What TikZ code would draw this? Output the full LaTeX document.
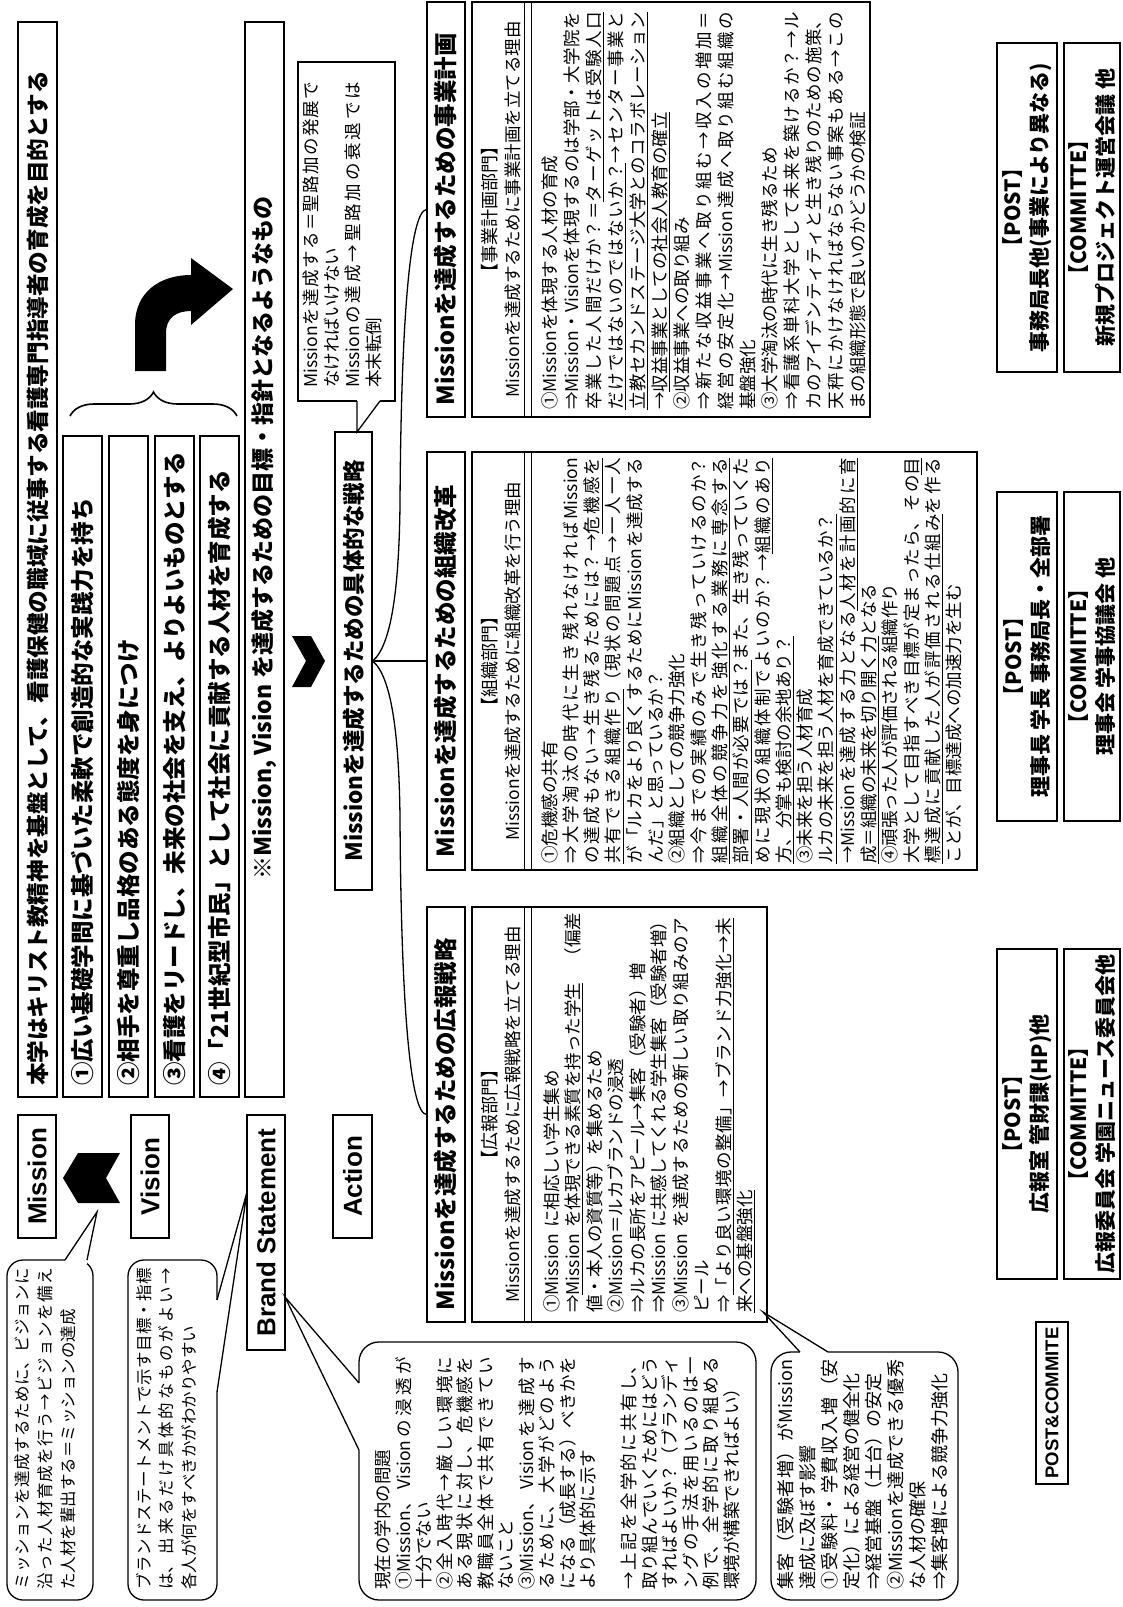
\documentclass[tikz,border=0pt]{standalone}
\usepackage{fontspec}
\setmainfont{Noto Sans CJK JP}
\newfontfamily\lat{Liberation Sans}
\usetikzlibrary{decorations.pathreplacing}
\XeTeXlinebreaklocale "ja"
\XeTeXlinebreakskip=0pt plus 1fil
\XeTeXlinebreakpenalty=10000
\hyphenpenalty=10000
\exhyphenpenalty=10000
\newcommand\jst{\parindent=0pt\leftskip=0pt\rightskip=0pt\parfillskip=0pt plus 1fill\hyphenpenalty=10000\relax}
% stretchable underline, char by char
\newcommand\ulglue{\nobreak\leaders\hrule height -2.9pt depth 3.9pt\hskip 0pt plus 1fil\relax}
\newcommand\ulchar[1]{\setbox0=\hbox{#1}\rlap{\vrule height -2.9pt depth 3.9pt width \wd0}\box0}
\newcommand\myul[1]{\leavevmode\def\ulsep{}\myulA#1\relax}
\def\myulA#1{\ifx\relax#1\else\ulsep\def\ulsep{\ulglue}\ulchar{#1}\expandafter\myulA\fi}
\newcommand\fs[2]{\fontsize{#1}{#2}\selectfont}
\tikzset{
 bx/.style={draw, line width=1.3pt, rotate=90, inner sep=0pt, fill=white},
 rt/.style={rotate=90, inner sep=0pt},
 ln/.style={line width=1.3pt},
 lab/.style={font=\lat\fs{26}{30}\bfseries},
 hd/.style={font=\fs{23.5}{26}\bfseries},
 strip/.style={rotate=90, inner sep=0pt, anchor=west, font=\fs{23.5}{26}\bfseries},
 pst/.style={align=center, font=\fs{21}{27}\bfseries},
}
\newcommand\RB[7][]{\node[bx,#1,minimum width={#6pt-#4pt},minimum height={#5pt-#3pt}] (#2) at ({(#3+#5)/2},{(#4+#6)/2}) {#7};}
\newcommand\ptr[5]{\fill[white] #1 -- #2 -- #3 -- #4 -- #5 -- cycle; \draw[ln] #2 -- #3 -- #4;}
\begin{document}
\begin{tikzpicture}[x=1pt,y=-1pt]
\fill[white] (0,0) rectangle (1123,1607);
\useasboundingbox (0,0) rectangle (1123,1607);

% ---- mission / vision strip
\RB{s0}{18}{22}{57}{1097}{}
\node[strip,font=\fs{22.6}{26}\bfseries] (t0) at (37.5,1086) {本学はキリスト教精神を基盤として、看護保健の職域に従事する看護専門指導者の育成を目的とする};
\RB{s1}{63}{436}{102}{1097}{}
\node[strip] (t1) at (82.5,1086) {①広い基礎学問に基づいた柔軟で創造的な実践力を持ち};
\RB{s2}{109}{436}{148}{1097}{}
\node[strip] (t2) at (128.5,1086) {②相手を尊重し品格のある態度を身につけ};
\RB{s3}{155}{436}{194}{1097}{}
\node[strip] (t3) at (174.5,1086) {③看護をリードし、未来の社会を支え、よりよいものとする};
\RB{s4}{200}{436}{239}{1097}{}
\node[strip] (t4) at (219.5,1086) {④「21世紀型市民」として社会に貢献する人材を育成する};
\RB{s5}{245}{22}{284}{1097}{}
\node[strip,font=\fs{23}{26}\bfseries] (t5) at (264.5,880) {※Mission, Vision を達成するための目標・指針となるようなもの};

% brace and bent arrow
\draw[line width=1.6pt, decorate, decoration={brace, amplitude=24pt}] (70,416) -- (237,416);
\fill (135,371) -- (135,325) .. controls (135,292) and (160,275) .. (191,275) -- (191,258) -- (233,289) -- (191,325) -- (191,311) .. controls (176,311) and (166,318) .. (166,333) -- (166,371) -- cycle;

% chevrons
\fill (63,1178) -- (78,1153) -- (120,1153) -- (106,1178) -- (120,1203) -- (78,1203) -- cycle;
\fill (292,636) -- (311,636) -- (325,661) -- (311,687) -- (292,687) -- (306,661) -- cycle;

% labels
\RB[lab]{mission}{18}{1115}{56}{1238}{Mission}
\RB[lab]{vision}{131}{1115}{169}{1238}{Vision}
\RB[lab]{brand}{247}{1115}{285}{1350}{Brand Statement}
\RB[lab]{action}{333}{1115}{372}{1238}{Action}

% callout
\RB{co}{298}{62}{395}{401}{}
\node[rt,anchor=north west,text width=306pt,font=\fs{17.5}{21}] (cot) at (303,388) {\jst Missionを達成する＝聖路加の発展で\linebreak
なければいけない\par
Missionの達成→聖路加の衰退では\linebreak
本末転倒\par};

% strategy
\RB[font=\fs{22.5}{26}\bfseries]{strat}{335}{432}{372}{890}{Missionを達成するための具体的な戦略}

% headings
\RB[hd]{h1}{427}{2}{465}{417}{\hbox to 392pt{Missionを達成するための事業計画}}
\RB[hd]{h2}{427}{452}{465}{870}{\hbox to 392pt{Missionを達成するための組織改革}}
\RB[hd]{h3}{427}{907}{465}{1322}{\hbox to 392pt{Missionを達成するための広報戦略}}

% content boxes
\RB{c1}{472}{2}{870}{417}{}
\draw[ln] ([xshift=53pt]c1.north east) -- ([xshift=53pt]c1.north west);
\draw[ln] ([xshift=60pt]c1.north east) -- ([xshift=60pt]c1.north west);
\node[rt,font=\fs{18}{20}] (c1a) at (490,209.5) {【事業計画部門】};
\node[rt,font=\fs{17.5}{20}] (c1b) at (513,209.5) {Missionを達成するために事業計画を立てる理由};
\node[rt,anchor=north west,text width=398pt,font=\fs{17.5}{22}] (c1t) at (541,410) {\jst ①Missionを体現する人材の育成\par
⇒Mission・Visionを体現するのは学部・大学院を\linebreak
卒業した人間だけか？＝\myul{ターゲットは受験人口}\linebreak
\myul{だけではないのではないか？}→センター事業と\linebreak
\myul{立教セカンドステージ大学とのコラボレーション}\linebreak
→\myul{収益事業としての社会人教育の確立}\par
②収益事業への取り組み\par
⇒新たな収益事業へ取り組む→収入の増加＝\linebreak
経営の安定化→Mission達成へ取り組む組織の\linebreak
基盤強化\par
③大学淘汰の時代に生き残るため\par
⇒看護系単科大学として未来を築けるか？→ル\linebreak
カのアイデンティティと生き残りのための施策、\linebreak
天秤にかけなければならない事案もある→この\linebreak
まの組織形態で良いのかどうかの検証\par};

\RB{c2}{472}{452}{977}{870}{}
\draw[ln] ([xshift=53pt]c2.north east) -- ([xshift=53pt]c2.north west);
\draw[ln] ([xshift=60pt]c2.north east) -- ([xshift=60pt]c2.north west);
\node[rt,font=\fs{18}{20}] (c2a) at (490,661) {【組織部門】};
\node[rt,font=\fs{17.5}{20}] (c2b) at (513,661) {Missionを達成するために組織改革を行う理由};
\node[rt,anchor=north west,text width=406pt,font=\fs{17.5}{21.3}] (c2t) at (541,864) {\jst ①危機感の共有\par
⇒大学淘汰の時代に生き残れなければMission\linebreak
の達成もない→生き残るためには？→\myul{危機感を}\linebreak
\myul{共有できる組織作り}（現状の問題点→一人一人\linebreak
が「ルカをより良くするためにMissionを達成する\linebreak
んだ」と思っているか？\par
②組織としての競争力強化\par
⇒今までの実績のみで生き残っていけるのか？\linebreak
\myul{組織全体の競争力を強化する業務に専念する}\linebreak
\myul{部署・人間が必要では？}また、生き残っていくた\linebreak
めに現状の組織体制でよいのか？→\myul{組織のあり}\linebreak
\myul{方、分掌も検討の余地あり？}\par
③未来を担う人材育成\par
\myul{ルカの未来を担う人材を育成できているか？}\par
→Missionを達成する力となる\myul{人材を計画的に育}\linebreak
\myul{成＝組織の未来を切り開く力}となる\par
④頑張った人が評価される組織作り\par
大学として目指すべき目標が定まったら、その\myul{目}\linebreak
\myul{標達成に貢献した人が評価される仕組み}を作る\linebreak
ことが、目標達成への加速力を生む\par};

\RB{c3}{472}{907}{767}{1322}{}
\draw[ln] ([xshift=53pt]c3.north east) -- ([xshift=53pt]c3.north west);
\draw[ln] ([xshift=60pt]c3.north east) -- ([xshift=60pt]c3.north west);
\node[rt,font=\fs{18}{20}] (c3a) at (490,1114.5) {【広報部門】};
\node[rt,font=\fs{17.5}{20}] (c3b) at (513,1114.5) {Missionを達成するために広報戦略を立てる理由};
\node[rt,anchor=north west,text width=395pt,font=\fs{17.5}{21.5}] (c3t) at (543,1313) {\jst ①Mission に相応しい学生集め\par
⇒\myul{Mission~を体現できる素質を持った学生}　（偏差\linebreak
値・本人の資質等）を集めるため\par
②Mission＝ルカブランドの浸透\par
⇒ルカの長所をアピール→集客（受験者）増\par
⇒Mission に共感してくれる学生集客（受験者増）\par
③Mission を達成するための新しい取り組みのア\linebreak
ピール\par
⇒\myul{「より良い環境の整備」→ブランド力強化→未}\linebreak
\myul{来への基盤強化}\par};

% tree connectors
\draw[ln] (strat.south) .. controls (392,645) and (399,585) .. (400,505) .. controls (401,320) and (410,212) .. (h1.north);
\draw[ln] (strat.south) -- (h2.north);
\draw[ln] (strat.south) .. controls (392,677) and (399,737) .. (400,817) .. controls (401,1002) and (410,1113) .. (h3.north);

% post / committee boxes
\RB[pst]{p1}{997}{43}{1057}{372}{【POST】\\事務局長他(事業により異なる)}
\RB[pst]{q1}{1064}{43}{1120}{372}{【COMMITTE】\\新規プロジェクト運営会議 他}
\RB[pst]{p2}{997}{492}{1057}{821}{【POST】\\理事長 学長 事務局長・全部署}
\RB[pst]{q2}{1064}{492}{1120}{821}{【COMMITTE】\\理事会 学事協議会 他}
\RB[pst]{p3}{997}{949}{1057}{1279}{【POST】\\広報室 管財課(HP)他}
\RB[pst]{q3}{1064}{949}{1120}{1279}{【COMMITTE】\\広報委員会 学園ニュース委員会他}
\RB[font=\lat\fs{18.5}{22}\bfseries]{pc}{1036}{1322}{1068}{1484}{POST\&COMMITE}

% bubbles
\RB[rounded corners=16pt]{b1}{7}{1260}{93}{1600}{}
\node[rt,anchor=north west,text width=322pt,font=\fs{16.5}{23}] (b1t) at (14,1590) {\jst ミッションを達成するために、ビジョンに\linebreak
沿った人材育成を行う→ビジョンを備え\linebreak
た人材を輩出する＝ミッションの達成\par};
\RB[rounded corners=16pt]{b2}{128}{1260}{217}{1600}{}
\node[rt,anchor=north west,text width=322pt,font=\fs{16.5}{22.5}] (b2t) at (136,1590) {\jst ブランドステートメントで示す目標・指標\linebreak
は、出来るだけ具体的なものがよい→\linebreak
各人が何をすべきかがわかりやすい\par};
\RB[rounded corners=20pt]{b3}{359}{1342}{756}{1600}{}
\node[rt,anchor=north west,text width=233pt,font=\fs{17.5}{20.5}] (b3t) at (375,1590) {\jst 現在の学内の問題\par
①Mission、Visionの浸透が\linebreak
十分でない\par
②全入時代→厳しい環境に\linebreak
ある現状に対し、危機感を\linebreak
教職員全体で共有できてい\linebreak
ないこと\par
③Mission、Visionを達成す\linebreak
るために、大学がどのよう\linebreak
になる（成長する）べきかを\linebreak
より具体的に示す\par
\mbox{}\par
→上記を全学的に共有し、\linebreak
取り組んでいくためにはどう\linebreak
すればよいか？（ブランディ\linebreak
ングの手法を用いるのは一\linebreak
例で、全学的に取り組める\linebreak
環境が構築できればよい）\par};
\RB[rounded corners=20pt]{b4}{771}{1352}{958}{1600}{}
\node[rt,anchor=north west,text width=230pt,font=\fs{18}{22}] (b4t) at (777,1590) {\jst 集客（受験者増）がMission\linebreak
達成に及ぼす影響\par
①受験料・学費収入増（安\linebreak
定化）による経営の健全化\par
⇒経営基盤（土台）の安定\par
②Missionを達成できる優秀\linebreak
な人材の確保\par
⇒集客増による競争力強化\par};

% pointers
\ptr{(65,1264)}{(65,1260)}{(97,1212)}{(87,1260)}{(87,1264)}
\ptr{(213,1300)}{(217,1300)}{(247,1192)}{(217,1392)}{(213,1392)}
\ptr{(363,1383)}{(359,1383)}{(285,1297)}{(359,1450)}{(363,1450)}
\ptr{(800,1356)}{(800,1352)}{(763,1312)}{(828,1352)}{(828,1356)}
\ptr{(357,397)}{(357,401)}{(357,432)}{(380,401)}{(380,397)}
\end{tikzpicture}
\end{document}
